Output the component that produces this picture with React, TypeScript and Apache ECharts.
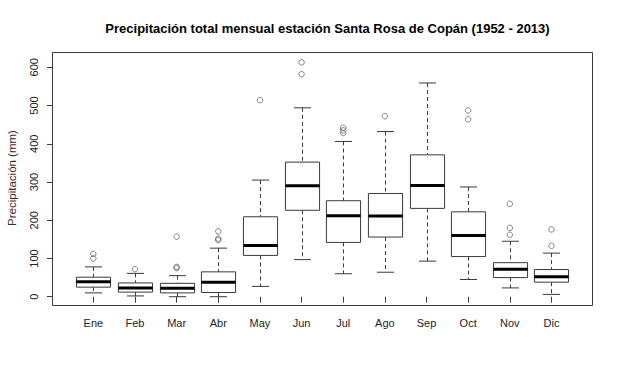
import React, { useEffect, useRef } from "react";
import * as echarts from "echarts";

const months = ["Ene", "Feb", "Mar", "Abr", "May", "Jun", "Jul", "Ago", "Sep", "Oct", "Nov", "Dic"];
const lowerWhisker = [10, 2, 0, 0, 27, 97, 60, 64, 93, 45, 23, 6];
const q1 = [25, 12, 10, 11, 108, 226, 142, 156, 231, 105, 50, 38];
const medians = [39, 23, 22, 38, 134, 290, 212, 211, 291, 160, 72, 52];
const q3 = [51, 36, 35, 65, 209, 352, 251, 270, 371, 222, 89, 71];
const upperWhisker = [78, 61, 55, 127, 305, 494, 406, 432, 559, 287, 145, 114];
const outliers = [
  [112, 100],
  [72],
  [157, 78, 75],
  [171, 152, 148],
  [514],
  [613, 582],
  [442, 435, 428],
  [472],
  [],
  [487, 464],
  [243, 180, 162],
  [176, 133],
];
const yTicks = [0, 100, 200, 300, 400, 500, 600];

const FONT = "'Liberation Sans', Arial, sans-serif";
const LINE = "#3a3a3a";

export default function App() {
  const ref = useRef<HTMLDivElement>(null);
  useEffect(() => {
    if (!ref.current) return;
    const chart = echarts.init(ref.current, null, { renderer: "svg" });
    const boxData = months.map((_, i) => [i, lowerWhisker[i], q1[i], medians[i], q3[i], upperWhisker[i]]);
    const outlierData: number[][] = [];
    outliers.forEach((arr, i) => arr.forEach((v) => outlierData.push([i, v])));

    chart.setOption({
      animation: false,
      backgroundColor: "#ffffff",
      textStyle: { fontFamily: FONT },
      title: {
        text: "Precipitación total mensual estación Santa Rosa de Copán (1952 - 2013)",
        left: 322.5,
        top: 17,
        textAlign: "center",
        textStyle: { fontFamily: FONT, fontSize: 13, fontWeight: "bold", color: "#000" },
      },
      grid: { left: 72.5, right: 47.7, top: 67.3, bottom: 75.3 },
      xAxis: {
        type: "category",
        data: months,
        offset: 9,
        axisLine: { show: false },
        axisTick: { show: true, alignWithLabel: true, length: 6, lineStyle: { color: LINE } },
        axisLabel: { margin: 12, fontSize: 11, color: "#222", fontFamily: FONT },
        splitLine: { show: false },
      },
      yAxis: {
        type: "value",
        min: yTicks[0],
        max: yTicks[yTicks.length - 1],
        interval: 100,
        offset: 19.5,
        axisLine: { show: false },
        axisTick: { show: true, length: 6, lineStyle: { color: LINE } },
        axisLabel: { rotate: 90, margin: 14, fontSize: 11, color: "#222", fontFamily: FONT },
        splitLine: { show: false },
      },
      graphic: [
        {
          type: "rect",
          shape: { x: 52.5, y: 52.5, width: 540, height: 253 },
          style: { fill: "none", stroke: LINE, lineWidth: 1 },
          silent: true,
        },
        {
          type: "text",
          x: 12,
          y: 178,
          rotation: Math.PI / 2,
          style: {
            text: "Precipitación (mm)",
            align: "center",
            verticalAlign: "middle",
            fontSize: 11.5,
            fontFamily: FONT,
            fill: "#4a2626",
          },
        },
      ],
      series: [
        {
          type: "custom",
          data: boxData,
          clip: false,
          encode: { x: 0, y: [1, 2, 3, 4, 5] },
          renderItem: (params: any, api: any) => {
            const idx = api.value(0);
            const band = api.size([1, 0])[0];
            const bw = band * 0.82;
            const cx = Math.round(api.coord([idx, 0])[0]) + 0.5;
            const yLo = api.coord([idx, api.value(1)])[1];
            const yQ1 = api.coord([idx, api.value(2)])[1];
            const yMed = api.coord([idx, api.value(3)])[1];
            const yQ3 = api.coord([idx, api.value(4)])[1];
            const yHi = api.coord([idx, api.value(5)])[1];
            const dash = { stroke: LINE, lineWidth: 1, lineDash: [4, 3] };
            const solid = { stroke: LINE, lineWidth: 1 };
            return {
              type: "group",
              children: [
                { type: "line", shape: { x1: cx, y1: yHi, x2: cx, y2: yQ3 }, style: dash },
                { type: "line", shape: { x1: cx, y1: yQ1, x2: cx, y2: yLo }, style: dash },
                { type: "line", shape: { x1: cx - bw / 4, y1: yHi, x2: cx + bw / 4, y2: yHi }, style: solid },
                { type: "line", shape: { x1: cx - bw / 4, y1: yLo, x2: cx + bw / 4, y2: yLo }, style: solid },
                {
                  type: "rect",
                  shape: { x: cx - bw / 2, y: yQ3, width: bw, height: yQ1 - yQ3 },
                  style: { fill: "#ffffff", stroke: LINE, lineWidth: 1 },
                },
                {
                  type: "line",
                  shape: { x1: cx - bw / 2, y1: yMed, x2: cx + bw / 2, y2: yMed },
                  style: { stroke: "#000", lineWidth: 3 },
                },
              ],
            };
          },
        },
        {
          type: "scatter",
          data: outlierData,
          clip: false,
          symbol: "circle",
          symbolSize: 5.5,
          itemStyle: { color: "rgba(255,255,255,0)", borderColor: "#555", borderWidth: 0.9 },
        },
      ],
    });
    return () => chart.dispose();
  }, []);
  return <div ref={ref} style={{ position: "fixed", left: 0, top: 0, width: 620, height: 372 }} />;
}
